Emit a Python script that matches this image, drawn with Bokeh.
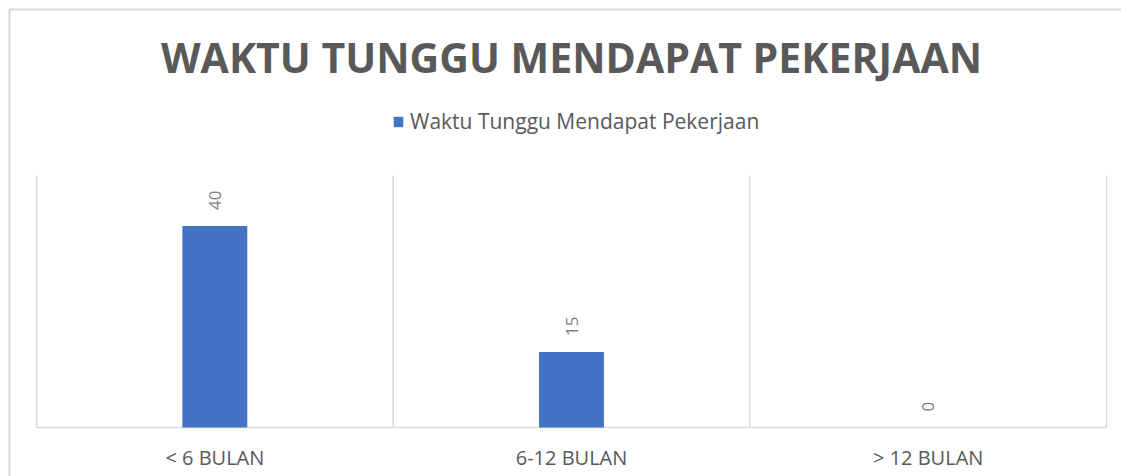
import numpy as np
from bokeh.plotting import figure
from bokeh.models import Range1d, Legend, LegendItem
from bokeh.embed import file_html
from bokeh.resources import INLINE
from bokeh.core.properties import value

# ---- data ----
title_text = "WAKTU TUNGGU MENDAPAT PEKERJAAN"
series_name = "Waktu Tunggu Mendapat Pekerjaan"
categories = ["< 6 BULAN", "6-12 BULAN", "> 12 BULAN"]
values = [40, 15, 0]
y_max = 50

# ---- layout (canvas pixels) ----
W, H = 1121, 476
BORDER = 9                      # chart frame edge (left / top)
PLOT_L, PLOT_R, PLOT_T, PLOT_B = 36, 1106, 175, 427
BAR_COLOR = "#4472C4"
TEXT_COLOR = "#595959"
GRID_COLOR = "#d9d9d9"
FONT = "Open Sans"

n = len(categories)
x_per_px = n / (PLOT_R - PLOT_L)
y_per_px = y_max / (PLOT_B - PLOT_T)
x_start, x_end = -PLOT_L * x_per_px, n + (W - PLOT_R) * x_per_px
y_start, y_end = -(H - PLOT_B) * y_per_px, y_max + PLOT_T * y_per_px

def px_to_x(px):
    return (px - PLOT_L) * x_per_px

def px_to_y(py):
    return y_max + (PLOT_T - py) * y_per_px

p = figure(
    width=W, height=H,
    x_range=Range1d(x_start, x_end), y_range=Range1d(y_start, y_end),
    output_backend="svg", toolbar_location=None,
    min_border=0, title=None,
)
p.outline_line_color = None
p.background_fill_color = "white"
p.border_fill_color = "white"
p.xaxis.visible = False
p.yaxis.visible = False
p.xgrid.grid_line_color = None
p.ygrid.grid_line_color = None

# chart frame (left and top edges)
bx, by = px_to_x(BORDER), px_to_y(BORDER)
p.segment(x0=[bx, bx], y0=[by, by], x1=[bx, x_end], y1=[y_start, by],
          line_color=GRID_COLOR, line_width=2)

x_centers = np.arange(n) + 0.5
bounds = np.arange(n + 1)

# category separators and baseline
p.segment(x0=bounds, y0=0, x1=bounds, y1=y_max, line_color=GRID_COLOR, line_width=1.5)
p.segment(x0=[0], y0=[0], x1=[n], y1=[0], line_color=GRID_COLOR, line_width=1.5)

r = p.vbar(x=x_centers, top=values, width=0.182, fill_color=BAR_COLOR, line_color=None)

# value labels
p.text(x=x_centers, y=values, text=[str(v) for v in values], angle=np.pi / 2,
       text_align="left", text_baseline="middle", y_offset=-16,
       text_font=value(FONT), text_font_size="17px", text_color="#7f7f7f")

# category labels
p.text(x=x_centers, y=[0] * n, text=categories, text_align="center", text_baseline="middle",
       y_offset=30, text_font=value(FONT), text_font_size="20px", text_color=TEXT_COLOR)

# title
p.text(x=[n / 2], y=[px_to_y(56)], text=[title_text], text_align="center",
       text_baseline="middle", text_font=value(FONT), text_font_style="bold",
       text_font_size="41px", text_color=TEXT_COLOR)

legend = Legend(
    items=[LegendItem(label=series_name, renderers=[r])],
    location=(392, 341), orientation="horizontal",
    border_line_color=None, background_fill_alpha=0,
    padding=0, margin=0, glyph_width=12, glyph_height=13, label_standoff=6,
    label_text_font=FONT, label_text_font_size="21px", label_text_color=TEXT_COLOR,
)
p.add_layout(legend)

with open("out.html", "w") as f:
    f.write(file_html(p, INLINE))
